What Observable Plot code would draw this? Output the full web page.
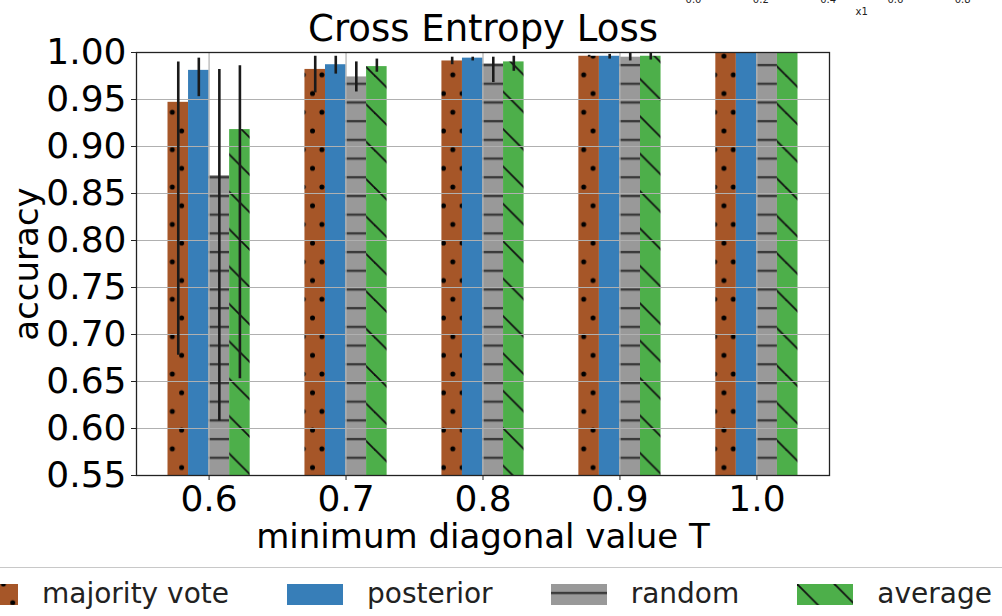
<!DOCTYPE html>
<html>
<head>
<meta charset="utf-8">
<script src="https://cdn.jsdelivr.net/npm/d3@7"></script>
<script src="https://cdn.jsdelivr.net/npm/@observablehq/plot@0.6"></script>
<style>
  html, body { margin: 0; padding: 0; background: #fff; }
  body { width: 1002px; height: 616px; overflow: hidden; position: relative; font-family: "DejaVu Sans", sans-serif; }
  #chart { position: absolute; left: 0; top: 0; }
  #mini { position: absolute; left: 673px; top: -23px; width: 400px; }
  #mini svg, #chart svg { max-width: none !important; }
  #legend { position: absolute; left: 0; top: 567px; width: 1002px; height: 60px; border-top: 1.5px solid #c8c8c8; overflow: visible; }
  #legend .row { position: absolute; left: -38px; top: 14px; display: flex; align-items: center; gap: 58px; white-space: nowrap; }
  #legend .item { display: flex; align-items: center; gap: 24px; font-size: 28px; color: #222; line-height: 24px; }
  #legend svg { display: block; }
</style>
</head>
<body>
<div id="chart"></div>
<div id="mini"></div>
<div id="legend"></div>
<script>
// ---- data ----
const categories = ["0.6", "0.7", "0.8", "0.9", "1.0"];
const seriesNames = ["majority vote", "posterior", "random", "average"];
const majority  = [0.947, 0.982, 0.991, 0.996, 1.000];
const posterior = [0.981, 0.987, 0.994, 0.996, 1.000];
const random    = [0.869, 0.974, 0.988, 0.995, 1.000];
const average   = [0.918, 0.985, 0.990, 0.996, 1.000];
const majorityLo  = [0.678, 0.957, 0.987, 0.995, 1.000];
const majorityHi  = [0.990, 0.996, 0.995, 0.997, 1.000];
const posteriorLo = [0.953, 0.977, 0.991, 0.993, 1.000];
const posteriorHi = [0.994, 0.996, 0.995, 0.998, 1.000];
const randomLo    = [0.608, 0.958, 0.968, 0.991, 1.000];
const randomHi    = [0.982, 0.990, 0.995, 0.999, 1.000];
const averageLo   = [0.653, 0.979, 0.980, 0.992, 1.000];
const averageHi   = [0.986, 0.993, 0.996, 0.999, 1.000];
const yTicks = [0.55, 0.60, 0.65, 0.70, 0.75, 0.80, 0.85, 0.90, 0.95, 1.00];
const miniTicks = [0.0, 0.2, 0.4, 0.6, 0.8, 1.0];

const colors = ["#a65628", "#377eb8", "#999999", "#4daf4a"];
const values = [majority, posterior, random, average];
const lows = [majorityLo, posteriorLo, randomLo, averageLo];
const highs = [majorityHi, posteriorHi, randomHi, averageHi];

const barW = 0.15;
const rows = [];
categories.forEach((c, i) => {
  seriesNames.forEach((s, j) => {
    rows.push({i, j, s, v: values[j][i], lo: lows[j][i], hi: highs[j][i]});
  });
});
const xc = d => d.i + (d.j - 1.5) * barW;
const yMin = yTicks[0];

function patternDefs(prefix) {
  return `
  <pattern id="${prefix}0" patternUnits="userSpaceOnUse" width="18.7" height="37.4" patternTransform="translate(4,0)">
    <rect width="18.7" height="37.4" fill="${colors[0]}"/>
    <circle cx="0" cy="0" r="2.5" fill="#000"/><circle cx="18.7" cy="0" r="2.5" fill="#000"/>
    <circle cx="0" cy="37.4" r="2.5" fill="#000"/><circle cx="18.7" cy="37.4" r="2.5" fill="#000"/>
    <circle cx="9.35" cy="18.7" r="2.5" fill="#000"/>
  </pattern>
  <pattern id="${prefix}1" patternUnits="userSpaceOnUse" width="20" height="20">
    <rect width="20" height="20" fill="${colors[1]}"/>
  </pattern>
  <pattern id="${prefix}2" patternUnits="userSpaceOnUse" width="20" height="18.7">
    <rect width="20" height="18.7" fill="${colors[2]}"/>
    <line x1="0" y1="9" x2="20" y2="9" stroke="#3a3a3a" stroke-width="2.4"/>
  </pattern>
  <pattern id="${prefix}3" patternUnits="userSpaceOnUse" width="37.4" height="37.4">
    <rect width="37.4" height="37.4" fill="${colors[3]}"/>
    <line x1="-2" y1="-2" x2="39.4" y2="39.4" stroke="#111" stroke-width="1.8"/>
    <line x1="-20" y1="17.4" x2="20" y2="57.4" stroke="#111" stroke-width="1.8"/>
    <line x1="17.4" y1="-20" x2="57.4" y2="20" stroke="#111" stroke-width="1.8"/>
  </pattern>`;
}

const barMarks = seriesNames.map((s, j) =>
  Plot.rectY(rows.filter(d => d.j === j), {
    x1: d => xc(d) - barW / 2,
    x2: d => xc(d) + barW / 2,
    y1: () => yMin,
    y2: "v",
    fill: `url(#pat${j})`
  })
);

const chart = Plot.plot({
  width: 1002,
  height: 560,
  marginLeft: 136,
  marginRight: 173,
  marginTop: 52,
  marginBottom: 85,
  style: {fontFamily: "DejaVu Sans", color: "#000", background: "transparent"},
  x: {type: "linear", domain: [-0.53, 4.53]},
  y: {domain: [yMin, 1.0]},
  marks: [
    ...barMarks,
    Plot.gridY(yTicks, {stroke: "#b0b0b0", strokeOpacity: 1, strokeWidth: 1.2}),
    Plot.gridX(d3.range(categories.length), {stroke: "#b0b0b0", strokeOpacity: 1, strokeWidth: 1.2}),
    Plot.ruleX(rows, {x: xc, y1: "lo", y2: "hi", stroke: "#1a1a1a", strokeWidth: 2.6}),
    Plot.frame({stroke: "#222", strokeWidth: 1.3}),
    Plot.axisY({ticks: yTicks, tickFormat: ".2f", fontSize: 36, tickSize: 5, tickPadding: 5, label: null, stroke: "#222"}),
    Plot.axisX({ticks: d3.range(categories.length), tickFormat: i => categories[i], fontSize: 36, tickSize: 5, tickPadding: 5, label: null, stroke: "#222"}),
    Plot.text(["accuracy"], {text: d => d, frameAnchor: "left", dx: -109, rotate: -90, fontSize: 34, textAnchor: "middle", lineAnchor: "middle"}),
    Plot.text(["minimum diagonal value T"], {text: d => d, frameAnchor: "bottom", dy: 62, fontSize: 34, textAnchor: "middle", lineAnchor: "middle"}),
    Plot.text(["Cross Entropy Loss"], {text: d => d, frameAnchor: "top", dy: -23, fontSize: 37, textAnchor: "middle", lineAnchor: "middle"})
  ]
});
chart.insertAdjacentHTML("afterbegin", `<defs>${patternDefs("pat")}</defs>`);
document.getElementById("chart").appendChild(chart);

// fragment of another axis, cut off at the top of the page
const mini = Plot.plot({
  width: 400,
  height: 60,
  marginLeft: 20,
  marginRight: 43.5,
  marginTop: 10,
  marginBottom: 48,
  style: {fontFamily: "DejaVu Sans", color: "#222", background: "transparent"},
  x: {domain: [0, 1]},
  marks: [
    Plot.axisX({ticks: miniTicks, tickFormat: ".1f", fontSize: 10, tickSize: 3.5, tickPadding: 3, label: null}),
    Plot.text(["x1"], {text: d => d, frameAnchor: "bottom", dy: 25, fontSize: 10, fill: "#222"})
  ]
});
document.getElementById("mini").appendChild(mini);

// legend
const legend = document.getElementById("legend");
const row = document.createElement("div");
row.className = "row";
seriesNames.forEach((s, j) => {
  const item = document.createElement("div");
  item.className = "item";
  item.innerHTML = `<svg width="56" height="21"><defs>${patternDefs("lg" + j + "_")}</defs><rect width="56" height="21" fill="url(#lg${j}_${j})"/></svg><span>${s}</span>`;
  row.appendChild(item);
});
legend.appendChild(row);
</script>
</body>
</html>
